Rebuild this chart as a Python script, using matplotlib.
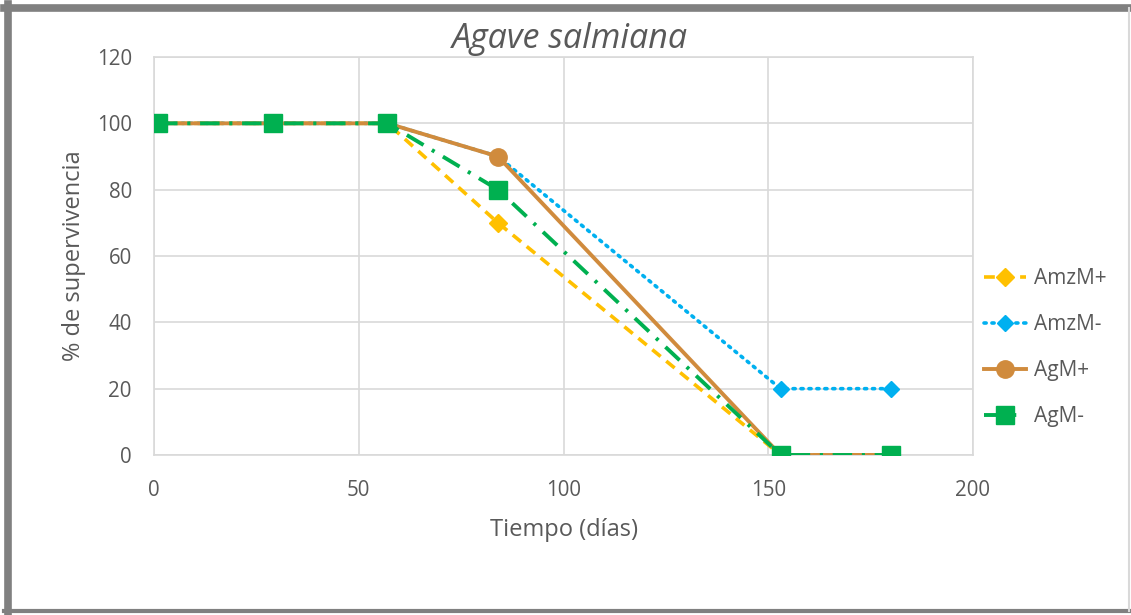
import matplotlib
matplotlib.use("Agg")
import matplotlib.pyplot as plt
from matplotlib.lines import Line2D

plt.rcParams['font.family'] = ['Open Sans', 'DejaVu Sans']

days = [1, 29, 57, 84, 153, 180]
amzm_plus = [100, 100, 100, 70, 0, 0]
amzm_minus = [100, 100, 100, 90, 20, 20]
agm_plus = [100, 100, 100, 90, 0, 0]
agm_minus = [100, 100, 100, 80, 0, 0]
series_names = ["AmzM+", "AmzM-", "AgM+", "AgM-"]
title = "Agave salmiana"
xlabel = "Tiempo (días)"
ylabel = "% de supervivencia"

W, H = 1131, 615
fig = plt.figure(figsize=(W / 100, H / 100), dpi=100)
ax = fig.add_axes([154 / W, 1 - 455 / H, (973 - 154) / W, (455 - 57) / H])

txt = "#595959"
ax.plot(days, amzm_plus, color="#FFC000", lw=2.6, ls=(0, (3, 2)), marker="D", ms=9.5,
        label=series_names[0], zorder=3)
ax.plot(days, amzm_minus, color="#00B0F0", lw=2.6, ls=(0, (0.6, 1.6)), dash_capstyle="round",
        marker="D", ms=8, label=series_names[1], zorder=3)
ax.plot(days, agm_plus, color="#D08B3D", lw=2.8, ls="-", marker="o", ms=12.5,
        label=series_names[2], zorder=4)
ax.plot(days, agm_minus, color="#00B050", lw=2.8, ls=(0, (5, 2.5, 0.8, 2.5)), marker="s", ms=12.5,
        label=series_names[3], zorder=5)

ax.set_xlim(0, 200)
ax.set_ylim(0, 120)
ax.set_xticks(range(0, 201, 50))
ax.set_yticks(range(0, 121, 20))
ax.grid(True, color="#D9D9D9", lw=1.2)
ax.set_axisbelow(True)
for s in ax.spines.values():
    s.set_color("#D9D9D9")
    s.set_linewidth(1.2)
ax.tick_params(length=0, labelsize=14.8, colors=txt)
ax.tick_params(axis="x", pad=18)
ax.tick_params(axis="y", pad=16)
ax.set_xlabel(xlabel, fontsize=17, color=txt, labelpad=12)
ax.set_ylabel(ylabel, fontsize=17, color=txt, labelpad=8)
fig.text(570 / W, 1 - 39 / H, title, ha="center", va="center", fontsize=24.5, style="italic", color=txt)

leg = ax.legend(loc="upper left", bbox_to_anchor=(976 / W, 1 - 260 / H), bbox_transform=fig.transFigure,
                frameon=False, fontsize=15, handlelength=2.0, labelspacing=1.2, handletextpad=0.4,
                borderaxespad=0)
for t in leg.get_texts():
    t.set_color(txt)

# outer frame
fig.add_artist(Line2D([7.5 / W, 7.5 / W], [1 - 4 / H, 1 - 613 / H], transform=fig.transFigure, color="#808080", lw=5.5))
fig.add_artist(Line2D([4 / W, 1131 / W], [1 - 8 / H, 1 - 8 / H], transform=fig.transFigure, color="#808080", lw=5.5))
fig.add_artist(Line2D([4 / W, 1131 / W], [1 - 611 / H, 1 - 611 / H], transform=fig.transFigure, color="#808080", lw=3))
fig.add_artist(Line2D([1129 / W, 1129 / W], [1 - 8 / H, 1 - 611 / H], transform=fig.transFigure, color="#D9D9D9", lw=1.5))

fig.savefig("out.png", dpi=100)
